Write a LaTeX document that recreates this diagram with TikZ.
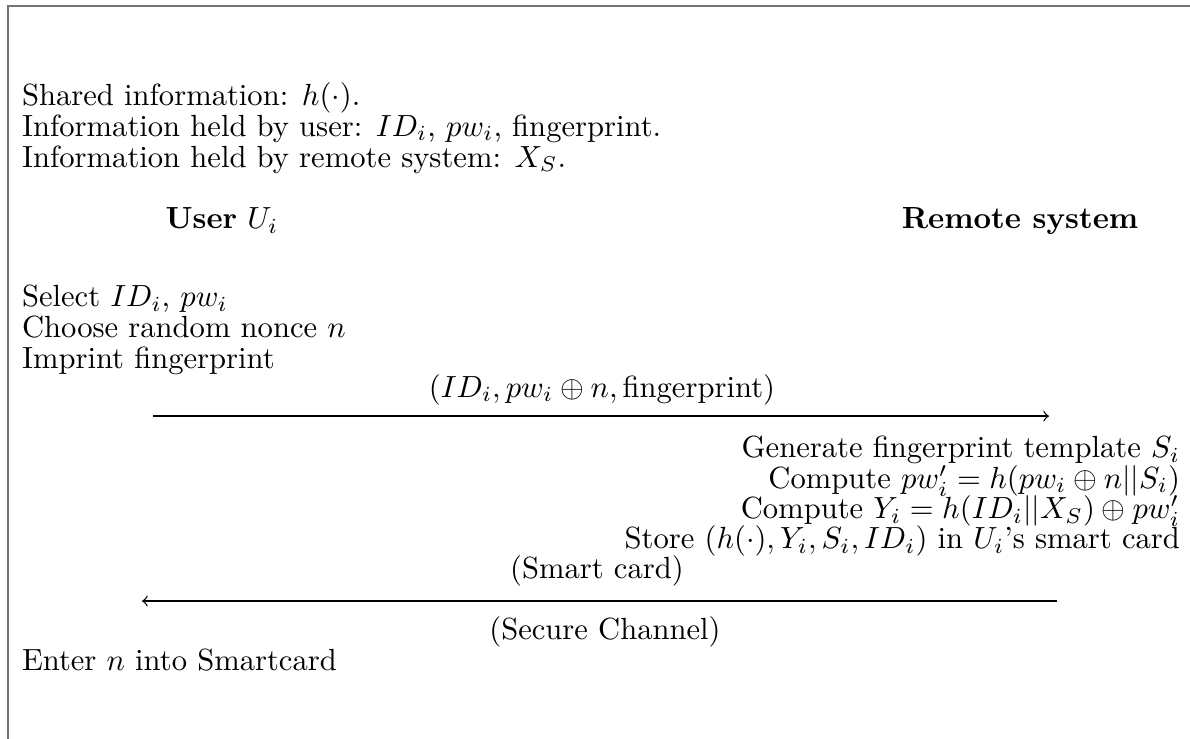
\documentclass[tikz,border=0pt]{standalone}
\begin{document}
\begin{tikzpicture}[x=0.3268pt, y=-0.3268pt,
  txt/.style={inner sep=0pt, outer sep=0pt},
  lft/.style={txt, anchor=base west},
  rgt/.style={txt, anchor=base east},
  mid/.style={txt, anchor=base},
  msg/.style={line width=0.42pt, ->},
  framebox/.style={draw=black!55, line width=0.65pt}]
\useasboundingbox (0,0) rectangle (1190,738);

% enclosing frame (only its top and left sides fall on the page)
\draw[framebox] (1195,5.7) -- (8.3,5.7) -- (8.3,745);

% shared and private information
\node[lft] (shared) at (22,105.6) {Shared information: $h(\cdot)$.};
\node[lft] (userinfo) at (22,136.3) {Information held by user: $ID_i$, $pw_i$, fingerprint.};
\node[lft] (sysinfo) at (22,167.1) {Information held by remote system: $X_S$.};

% column headings
\node[mid] (user) at (222,228.6) {\textbf{User} $U_i$};
\node[mid] (remote) at (1020,228.6) {\textbf{Remote system}};

% user side, registration request
\node[lft] (sel) at (22,306.4) {Select $ID_i$, $pw_i$};
\node[lft] (nonce) at (22,337.3) {Choose random nonce $n$};
\node[lft] (imprint) at (22,368.3) {Imprint fingerprint};

\coordinate (m1s) at (153,416.1);
\coordinate (m1e) at (1049,416.1);
\draw[msg] (m1s) -- (m1e);
\node[mid] (m1lbl) at (602,397.1) {$(ID_i, pw_i \oplus n, \mbox{fingerprint})$};

% remote system side
\node[rgt] (gen) at (1180,457.6) {Generate fingerprint template $S_i$};
\node[rgt] (cpw) at (1180,488.3) {Compute $pw'_i = h(pw_i \oplus n || S_i)$};
\node[rgt] (cy) at (1180,518.6) {Compute $Y_i = h(ID_i || X_S) \oplus pw'_i$};
\node[rgt] (store) at (1180,548.8) {Store $(h(\cdot), Y_i, S_i, ID_i)$ in $U_i$'s smart card};

% smart card delivery
\coordinate (m2s) at (1057,601.0);
\coordinate (m2e) at (142,601.0);
\draw[msg] (m2s) -- (m2e);
\node[mid] (m2lbl) at (597,578.5) {(Smart card)};
\node[mid] (chan) at (605,639.6) {(Secure Channel)};

\node[lft] (enter) at (22,670.7) {Enter $n$ into Smartcard};
\end{tikzpicture}
\end{document}
